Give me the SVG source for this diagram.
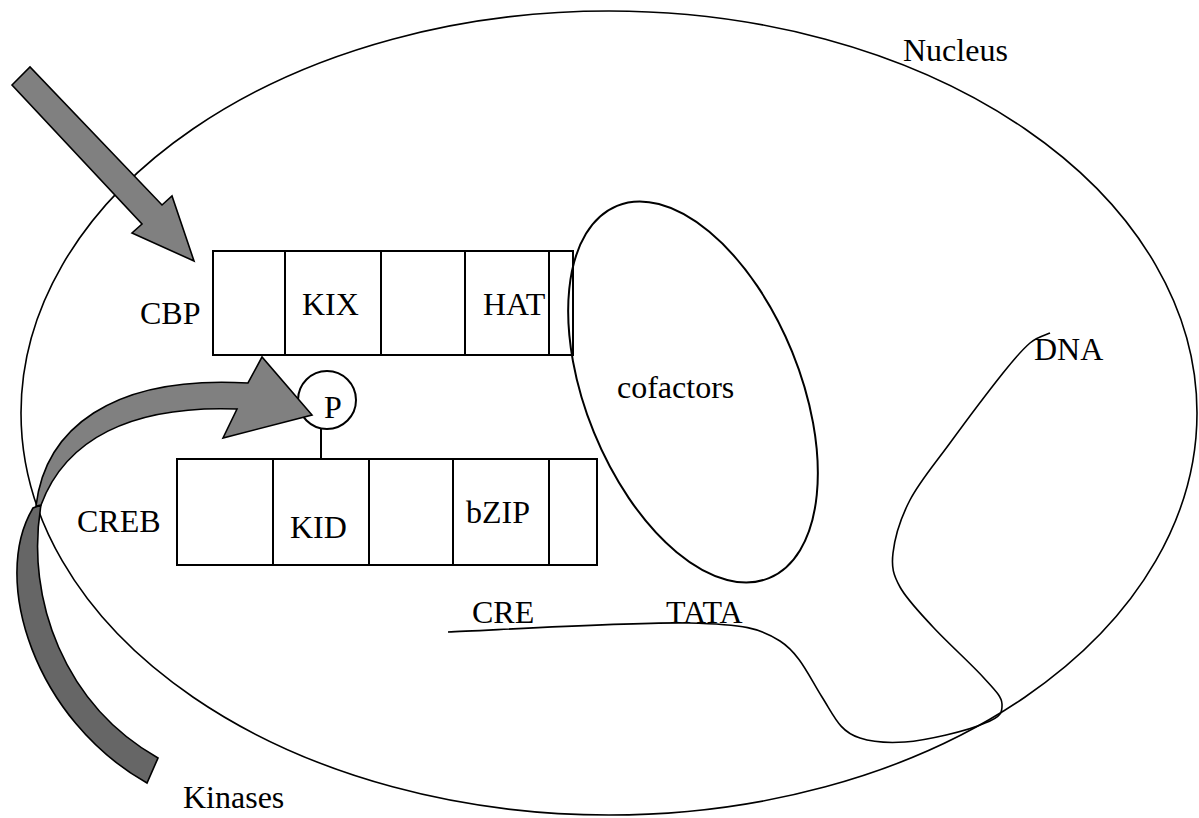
<svg xmlns="http://www.w3.org/2000/svg" width="1199" height="818" viewBox="0 0 1199 818" font-family="'Liberation Serif', Tinos, 'Times New Roman', 'DejaVu Serif', serif">
<style>
  text { font-family: 'Liberation Serif', Tinos, 'Times New Roman', 'DejaVu Serif', serif; font-size: 32px; fill: #000; }
  .ln { fill: none; stroke: #000; stroke-width: 1.6; }
  .box { fill: #fff; stroke: #000; stroke-width: 2; }
  .div { stroke: #000; stroke-width: 2; }
  .arr { fill: #808080; stroke: #000; stroke-width: 1.6; stroke-linejoin: miter; }
  .arrd { fill: #666666; stroke: #000; stroke-width: 1.6; }
</style>
<rect width="1199" height="818" fill="#fff"/>

<g id="nucleus">
  <ellipse class="ln" cx="609" cy="413" rx="588" ry="402"/>
  <text x="903" y="61">Nucleus</text>
</g>

<g id="dna">
  <path class="ln" d="M448,632 C488,630.5 634,621.7 689,623 C744,624.3 760,628 780,641 C800,654 809.2,676.8 822,697 C834.8,717.2 840,732 860,738 C875,743 890,743 905,742 C925,740.5 968,731 985,723 C1002,716.7 1002.3,711.7 1002,704 C1001.7,696.3 994.5,689.8 983,677 C971.5,664.2 946.8,642 933,627 C919.2,612 906.7,599.3 900,587 C893.3,574.7 891.3,567.5 893,553 C894.7,538.5 900.5,518.3 910,500 C919.5,481.7 934.5,464.2 950,443 C965.5,421.8 989.7,389.7 1003,373 C1016.3,356.3 1022.2,349.7 1030,343 C1037.8,336.3 1046.7,334.7 1050,333"/>
  <text x="1034" y="360">DNA</text>
  <text x="472" y="623">CRE</text>
  <text x="666" y="623">TATA</text>
</g>

<g id="cbp">
  <rect class="box" x="213" y="251" width="360" height="104"/>
  <line class="div" x1="285" y1="251" x2="285" y2="355"/>
  <line class="div" x1="381" y1="251" x2="381" y2="355"/>
  <line class="div" x1="465" y1="251" x2="465" y2="355"/>
  <line class="div" x1="549" y1="251" x2="549" y2="355"/>
  <text x="140" y="324">CBP</text>
  <text x="302" y="315">KIX</text>
  <text x="483" y="315">HAT</text>
</g>

<g id="creb">
  <rect class="box" x="177" y="459" width="420" height="106"/>
  <line class="div" x1="273" y1="459" x2="273" y2="565"/>
  <line class="div" x1="369" y1="459" x2="369" y2="565"/>
  <line class="div" x1="453" y1="459" x2="453" y2="565"/>
  <line class="div" x1="549" y1="459" x2="549" y2="565"/>
  <text x="77" y="532">CREB</text>
  <text x="290" y="538">KID</text>
  <text x="466" y="523">bZIP</text>
</g>

<g id="cofactors">
  <ellipse class="ln" style="stroke-width:2" cx="693" cy="392" rx="201" ry="107" transform="rotate(67.8 693 392)"/>
  <text x="617" y="398">cofactors</text>
</g>

<g id="phospho">
  <circle cx="327" cy="400" r="29" fill="#fff" stroke="#000" stroke-width="2"/>
  <text x="324" y="418">P</text>
</g>

<g id="connectors">
  <line class="div" x1="321" y1="429" x2="321" y2="459"/>
  <polygon class="arr" points="12,85 30,67 162,205 172,196 194,261 132,233 142,224"/>
  <path class="arrd" d="M33,508 C-10,580 35,720 147,783 L158,758 C65,705 25,600 41,505 Z"/>
  <path class="arr" d="M36,506 C45,430 110,375 248,383 L262,357 L312,415 L223,438 L237,409 C130,405 65,440 41,505 Z"/>
  <text x="183" y="808">Kinases</text>
</g>
</svg>
